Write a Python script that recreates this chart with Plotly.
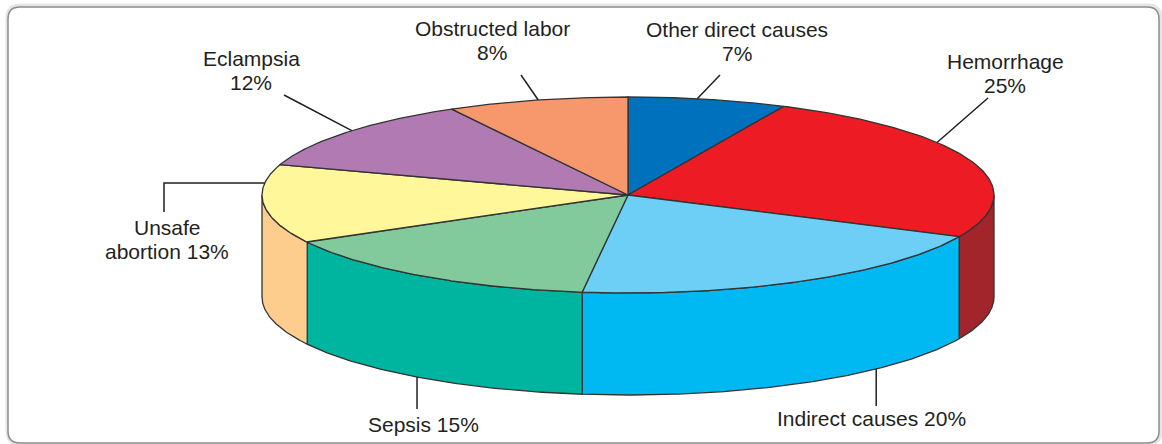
import numpy as np
import plotly.graph_objects as go

# Causes of maternal death, clockwise from 12 o'clock
causes = ["Other direct causes", "Hemorrhage", "Indirect causes", "Sepsis",
          "Unsafe abortion", "Eclampsia", "Obstructed labor"]
shares = [7, 25, 20, 15, 13, 12, 8]
top_colors = ["#0071BC", "#ED1C24", "#6DCFF6", "#82CA9C", "#FFF799", "#B17AB3", "#F6976C"]
side_colors = ["#005A96", "#A1252B", "#00B9F2", "#00B5A0", "#FDCD8E", "#8A5A8C", "#D9774E"]
label_formats = ["Other direct causes\n{p}%", "Hemorrhage\n{p}%", "Indirect causes {p}%",
                 "Sepsis {p}%", "Unsafe\nabortion {p}%", "Eclampsia\n{p}%",
                 "Obstructed labor\n{p}%"]

# Canvas and pie geometry (pixel units)
W, H = 1162, 444
CX, CY, RX, RY, DEPTH = 628, 195, 366, 98, 102
EDGE = "#333333"
INK = "#231F20"

# Label layout: text centre x, first-line centre y, rim angle of the leader,
# rim face ("top"/"bottom"), leader waypoints (None x = straight down/up from rim)
label_layout = [
    dict(x=737, y=29, ang=10.9, face="top", pts=[(720, 75)]),
    dict(x=1005, y=61, ang=57.6, face="top", pts=[(988, 98)]),
    dict(x=871, y=418, ang=137.3, face="bottom", pts=[(None, 406)]),
    dict(x=423, y=424, ang=215.2, face="bottom", pts=[(None, 409)]),
    dict(x=167, y=227, ang=277.0, face="top", pts=[(164, None), (164, 212)]),
    dict(x=251, y=58, ang=311.0, face="top", pts=[(284, 95)]),
    dict(x=492, y=28, ang=345.8, face="top", pts=[(521, 75)]),
]
line_gap = 24


def rim(t_deg, drop=0.0):
    t = np.radians(t_deg)
    return CX + RX * np.sin(t), CY - RY * np.cos(t) + drop


fig = go.Figure()

total = float(sum(shares))
bounds = np.concatenate([[0.0], np.cumsum(shares) / total * 360.0])

# Visible wall of the cylinder (front half: 90..270 degrees)
for i in range(len(shares)):
    a0, a1 = max(bounds[i], 90.0), min(bounds[i + 1], 270.0)
    if a1 <= a0:
        continue
    ts = np.linspace(a0, a1, 120)
    xt, yt = rim(ts)
    xb, yb = rim(ts[::-1], DEPTH)
    xs = np.concatenate([xt, xb, xt[:1]])
    ys = np.concatenate([yt, yb, yt[:1]])
    fig.add_trace(go.Scatter(x=xs, y=ys, mode="lines", fill="toself",
                             fillcolor=side_colors[i],
                             line=dict(color=EDGE, width=1.3),
                             hoverinfo="skip", name=causes[i]))

# Top face slices
for i in range(len(shares)):
    ts = np.linspace(bounds[i], bounds[i + 1], 160)
    xt, yt = rim(ts)
    xs = np.concatenate([[CX], xt, [CX]])
    ys = np.concatenate([[CY], yt, [CY]])
    fig.add_trace(go.Scatter(x=xs, y=ys, mode="lines", fill="toself",
                             fillcolor=top_colors[i],
                             line=dict(color=EDGE, width=1.3),
                             hoverinfo="skip", name=causes[i]))

# Leader lines and labels
annotations = []
for i, lay in enumerate(label_layout):
    drop = DEPTH if lay["face"] == "bottom" else 0.0
    rx0, ry0 = rim(lay["ang"], drop)
    lx, ly = [float(rx0)], [float(ry0)]
    for px, py in lay["pts"]:
        lx.append(float(rx0) if px is None else px)
        ly.append(float(ry0) if py is None else py)
    fig.add_trace(go.Scatter(x=lx, y=ly, mode="lines",
                             line=dict(color=INK, width=1.5),
                             hoverinfo="skip", showlegend=False))
    text_lines = label_formats[i].format(p=shares[i]).split("\n")
    for k, txt in enumerate(text_lines):
        annotations.append(dict(x=lay["x"], y=lay["y"] + k * line_gap, text=txt,
                                xref="x", yref="y", showarrow=False,
                                xanchor="center", yanchor="middle",
                                font=dict(family="Liberation Sans, Arial, sans-serif",
                                          size=21, color=INK)))

# Rounded frame with a soft shadow
def rounded_rect(x0, y0, x1, y1, r):
    return (f"M {x0 + r},{y0} L {x1 - r},{y0} Q {x1},{y0} {x1},{y0 + r} "
            f"L {x1},{y1 - r} Q {x1},{y1} {x1 - r},{y1} L {x0 + r},{y1} "
            f"Q {x0},{y1} {x0},{y1 - r} L {x0},{y0 + r} Q {x0},{y0} {x0 + r},{y0} Z")

shapes = [
    dict(type="path", xref="x", yref="y", layer="below",
         path=rounded_rect(8, 6, 1160, 443, 12),
         line=dict(color="rgba(0,0,0,0.10)", width=5)),
    dict(type="path", xref="x", yref="y", layer="below",
         path=rounded_rect(8, 7, 1159, 443, 12),
         line=dict(color="#8C8C8C", width=1.5), fillcolor="white"),
]

fig.update_layout(
    width=W, height=H, autosize=False,
    margin=dict(l=0, r=0, t=0, b=0),
    paper_bgcolor="white", plot_bgcolor="white",
    showlegend=False,
    xaxis=dict(range=[0, W], visible=False, fixedrange=True),
    yaxis=dict(range=[H, 0], visible=False, fixedrange=True),
    shapes=shapes, annotations=annotations,
)

fig.write_html("out.html")
